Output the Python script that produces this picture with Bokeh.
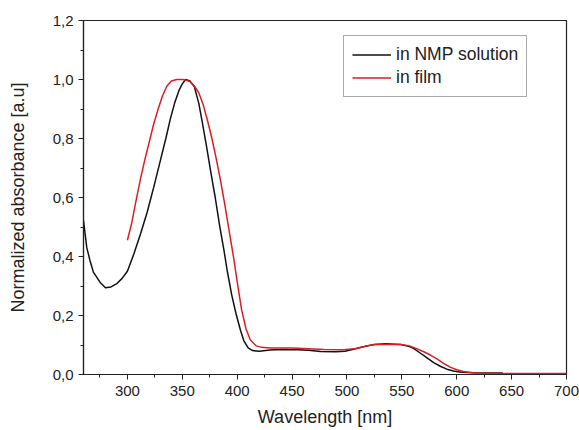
from bokeh.plotting import figure
from bokeh.models import Legend, LegendItem, Range1d, FixedTicker, CustomJSTickFormatter
from bokeh.embed import file_html
from bokeh.resources import INLINE

# In NMP solution
sol_wl = [260, 263, 266, 269, 275, 280, 285, 290, 295, 300, 306, 312, 318, 324, 330, 335,
          339, 343, 347, 350, 353, 357, 361, 365, 368, 372, 376, 380, 384, 388, 391, 395,
          399, 403, 406, 410, 414, 420, 430, 440, 455, 465, 476, 490, 498, 505, 510, 517,
          525, 535, 549, 556, 561, 567, 573, 579, 585, 591, 597, 604, 615, 630, 642]
sol_abs = [0.522, 0.43, 0.385, 0.347, 0.313, 0.294, 0.297, 0.307, 0.325, 0.35, 0.41, 0.477,
           0.55, 0.635, 0.725, 0.8, 0.865, 0.92, 0.963, 0.985, 1.0, 0.995, 0.975, 0.92,
           0.86, 0.775, 0.685, 0.6, 0.505, 0.42, 0.35, 0.27, 0.205, 0.15, 0.115, 0.09,
           0.081, 0.079, 0.083, 0.085, 0.084, 0.082, 0.078, 0.077, 0.079, 0.085, 0.09,
           0.096, 0.102, 0.104, 0.102, 0.096, 0.088, 0.072, 0.056, 0.04, 0.028, 0.018,
           0.012, 0.008, 0.006, 0.005, 0.005]

# In film
film_wl = [300, 304, 308, 312, 316, 320, 324, 328, 332, 336, 340, 345, 350, 353, 357, 361,
           365, 369, 373, 377, 381, 385, 389, 393, 397, 400, 404, 408, 412, 417, 422, 430,
           450, 479, 497, 509, 518, 525, 549, 557, 564, 570, 576, 582, 588, 594, 600, 606,
           616, 640, 700]
film_abs = [0.455, 0.515, 0.592, 0.665, 0.73, 0.79, 0.85, 0.9, 0.945, 0.978, 0.995, 1.0,
            1.0, 0.998, 0.993, 0.978, 0.955, 0.915, 0.86, 0.8, 0.73, 0.655, 0.57, 0.48,
            0.39, 0.315, 0.22, 0.155, 0.117, 0.098, 0.092, 0.09, 0.09, 0.085, 0.084, 0.088,
            0.097, 0.102, 0.102, 0.097, 0.087, 0.077, 0.066, 0.053, 0.038, 0.025, 0.016,
            0.01, 0.005, 0.003, 0.003]

x_ticks = [300, 350, 400, 450, 500, 550, 600, 650, 700]
x_minor = [275, 325, 375, 425, 475, 525, 575, 625, 675]
y_ticks = [0.0, 0.2, 0.4, 0.6, 0.8, 1.0, 1.2]
y_minor = [0.1, 0.3, 0.5, 0.7, 0.9, 1.1]

FONT = "Liberation Sans"

p = figure(width=579, height=430, output_backend="svg", toolbar_location=None,
           x_range=Range1d(260, 700), y_range=Range1d(0, 1.2),
           min_border_left=83, min_border_top=20, min_border_right=13, min_border_bottom=56)
p.grid.visible = False
p.outline_line_color = "#222222"
p.outline_line_width = 1.2
p.background_fill_color = "white"
p.border_fill_color = "white"

r_sol = p.line(sol_wl, sol_abs, line_color="#111111", line_width=1.5)
r_film = p.line(film_wl, film_abs, line_color="#dc1e24", line_width=1.5)

for ax in (p.xaxis[0], p.yaxis[0]):
    ax.axis_line_color = "#222222"
    ax.axis_line_width = 1.2
    ax.major_tick_line_color = "#222222"
    ax.minor_tick_line_color = "#222222"
    ax.major_tick_in = 0
    ax.major_tick_out = 5
    ax.minor_tick_in = 0
    ax.minor_tick_out = 3
    ax.major_label_text_font = FONT
    ax.major_label_text_font_size = "15px"
    ax.major_label_text_color = "#222222"
    ax.axis_label_text_font = FONT
    ax.axis_label_text_font_size = "18px"
    ax.axis_label_text_font_style = "normal"
    ax.axis_label_text_color = "#222222"

p.xaxis[0].ticker = FixedTicker(ticks=x_ticks, minor_ticks=x_minor)
p.yaxis[0].ticker = FixedTicker(ticks=y_ticks, minor_ticks=y_minor)
p.yaxis[0].formatter = CustomJSTickFormatter(code="return tick.toFixed(1).replace('.', ',');")
p.xaxis[0].axis_label = "Wavelength [nm]"
p.yaxis[0].axis_label = "Normalized absorbance [a.u]"
p.xaxis[0].major_label_standoff = 6
p.yaxis[0].major_label_standoff = 5
p.xaxis[0].axis_label_standoff = 8
p.yaxis[0].axis_label_standoff = 22

legend = Legend(items=[LegendItem(label="in NMP solution", renderers=[r_sol]),
                       LegendItem(label="in film", renderers=[r_film])],
                location=(260, 277))
legend.label_text_font = FONT
legend.label_text_font_size = "17.5px"
legend.label_text_color = "#222222"
legend.glyph_width = 39
legend.glyph_height = 17
legend.label_height = 17
legend.label_standoff = 5
legend.spacing = 2
legend.padding = 8
legend.margin = 0
legend.border_line_color = "#555555"
legend.border_line_width = 1
legend.background_fill_alpha = 1
p.add_layout(legend, "center")

open("out.html", "w").write(file_html(p, INLINE))
